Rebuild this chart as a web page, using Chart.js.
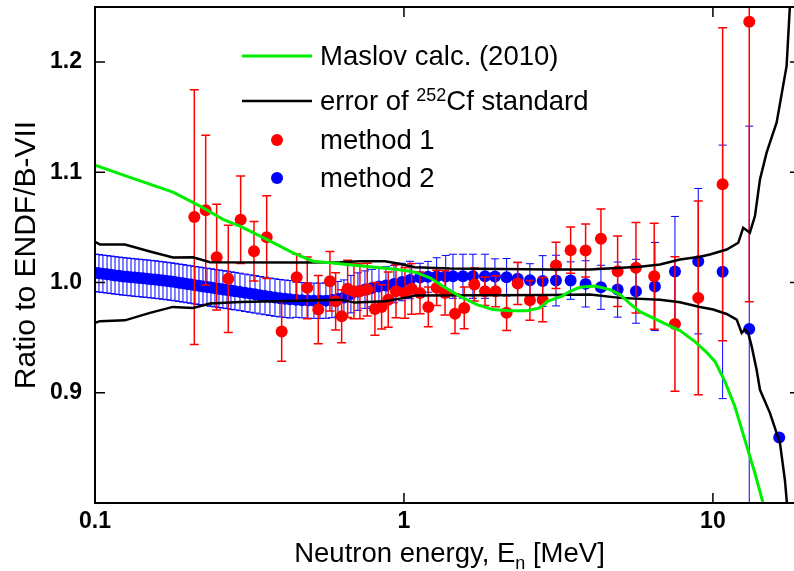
<!DOCTYPE html>
<html>
<head>
<meta charset="utf-8">
<script src="https://cdn.jsdelivr.net/npm/chart.js@4.4.1/dist/chart.umd.min.js"></script>
<style>
  html, body { margin: 0; padding: 0; background: #fff; }
  canvas { display: block; }
</style>
</head>
<body>
<canvas id="canvas" width="794" height="571"></canvas>
<script>
// neutron energy in MeV, ratio to ENDF/B-VII

var xTickValues = [0.1, 1, 10];
var xTickLabels = ['0.1', '1', '10'];
var yTickValues = [0.9, 1.0, 1.1, 1.2];
var yTickLabels = ['0.9', '1.0', '1.1', '1.2'];

var maslovEnergy = [0.1, 0.1298, 0.1788, 0.2187, 0.2595, 0.2946, 0.3595, 0.3969, 0.4373, 0.5075,
    0.5760, 0.6538, 0.8361, 0.9493, 1.046, 1.102, 1.214, 1.337, 1.518, 1.723,
    1.941, 2.203, 2.500, 2.756, 2.903, 3.127, 3.245, 3.445, 3.712, 4.151,
    4.642, 5.001, 5.388, 5.805, 6.395, 7.097, 7.821, 8.745, 9.563, 10.15,
    10.93, 11.78, 12.69, 13.68, 14.52];
var maslovRatio = [1.1066, 1.0955, 1.0821, 1.0694, 1.0573, 1.0512, 1.0391, 1.0330, 1.0270, 1.0194,
    1.0179, 1.0164, 1.0134, 1.0118, 1.0103, 1.0088, 1.0043, 0.9966, 0.9875, 0.9800,
    0.9755, 0.9745, 0.9745, 0.9770, 0.9827, 0.9861, 0.9875, 0.9921, 0.9957, 0.9968,
    0.9936, 0.9891, 0.9809, 0.9736, 0.9679, 0.9618, 0.9564, 0.9464, 0.9364, 0.9285,
    0.9103, 0.8876, 0.8573, 0.8270, 0.8003];

var cfUpperEnergy = [0.1, 0.1038, 0.125, 0.1506, 0.1788, 0.2076, 0.2356, 0.4607, 0.621, 0.7203,
    0.868, 0.9563, 1.085, 1.409, 2.969, 4.0, 5.80, 6.74, 7.821, 9.077,
    9.779, 11.08, 12.08, 12.53, 13.17, 13.68, 14.20, 14.92, 16.08, 17.32,
    17.75, 18.1];
var cfUpper = [1.0370, 1.0345, 1.0345, 1.0282, 1.0227, 1.0230, 1.0185, 1.0182, 1.0185, 1.0194,
    1.0194, 1.0173, 1.0139, 1.0127, 1.0118, 1.0118, 1.0143, 1.0164, 1.0209, 1.0234,
    1.0255, 1.0300, 1.0361, 1.0497, 1.0452, 1.0603, 1.0936, 1.1179, 1.1452, 1.1966,
    1.2509, 1.30];

var cfLowerEnergy = [0.1, 0.1038, 0.125, 0.1506, 0.1788, 0.2076, 0.2356, 0.2946, 0.4607, 0.621,
    0.694, 0.868, 1.046, 1.085, 2.969, 4.0, 5.0, 6.74, 7.821, 9.077,
    10.02, 11.08, 11.94, 12.39, 12.69, 13.01, 13.35, 13.85, 14.20, 15.29,
    16.48, 17.10, 17.36, 17.6];
var cfLower = [0.9634, 0.9650, 0.9657, 0.9725, 0.9779, 0.9770, 0.9809, 0.9823, 0.9836, 0.9845,
    0.9818, 0.9830, 0.9870, 0.9882, 0.9886, 0.9891, 0.9861, 0.9845, 0.9821, 0.9779,
    0.9755, 0.9715, 0.9664, 0.9543, 0.9573, 0.9543, 0.9421, 0.9209, 0.9027, 0.8818,
    0.8545, 0.8209, 0.8000, 0.75];

var method1Energy = [0.2096, 0.2282, 0.2476, 0.2700, 0.2961, 0.3270, 0.3595, 0.4020, 0.4495, 0.4864,
    0.5280, 0.5760, 0.6010, 0.6285, 0.6573, 0.6889, 0.7203, 0.7606, 0.8055, 0.8467,
    0.8895, 0.9422, 1.0075, 1.059, 1.127, 1.199, 1.276, 1.358, 1.463, 1.567,
    1.689, 1.829, 1.980, 2.149, 2.334, 2.557, 2.812, 3.105, 3.463, 3.872,
    4.341, 4.916, 5.635, 6.457, 7.536, 8.964, 10.75, 13.11];
var method1Ratio = [1.0594, 1.0657, 1.0230, 1.0034, 1.0570, 1.0285, 1.0412, 0.9557, 1.0048, 0.9952,
    0.9755, 1.0012, 0.9830, 0.9694, 0.9943, 0.9921, 0.9921, 0.9936, 0.9761, 0.9779,
    0.9845, 0.9921, 0.9906, 0.9943, 0.9906, 0.9779, 0.9952, 0.9906, 0.9718, 0.9770,
    0.9982, 0.9921, 0.9921, 0.9725, 0.9991, 0.9839, 0.9845, 1.0155, 1.0294, 1.0291,
    1.0397, 1.0103, 1.0134, 1.0057, 0.9623, 0.9861, 1.0891, 1.2366];
var method1Err = [0.1155, 0.068, 0.048, 0.0486, 0.0397, 0.027, 0.0375, 0.027, 0.021, 0.028,
    0.031, 0.027, 0.026, 0.024, 0.026, 0.025, 0.025, 0.024, 0.024, 0.020,
    0.025, 0.024, 0.023, 0.023, 0.019, 0.018, 0.016, 0.020, 0.018, 0.019,
    0.015, 0.013, 0.014, 0.016, 0.019, 0.018, 0.020, 0.021, 0.021, 0.024,
    0.027, 0.032, 0.041, 0.048, 0.061, 0.088, 0.142, 0.254];

var method2Energy = [0.1000, 0.1030, 0.1061, 0.1094, 0.1127, 0.1161, 0.1196, 0.1232, 0.1269, 0.1308,
    0.1347, 0.1388, 0.1430, 0.1473, 0.1518, 0.1564, 0.1611, 0.1660, 0.1710, 0.1762,
    0.1815, 0.1870, 0.1926, 0.1985, 0.2045, 0.2107, 0.2170, 0.2236, 0.2304, 0.2373,
    0.2445, 0.2519, 0.2595, 0.2674, 0.2755, 0.2838, 0.2946, 0.3058, 0.3174, 0.3295,
    0.3420, 0.3550, 0.3684, 0.3824, 0.3969, 0.4120, 0.4276, 0.4472, 0.4676, 0.4890,
    0.5113, 0.5347, 0.5591, 0.5847, 0.6114, 0.6393, 0.6735, 0.7096, 0.7478, 0.7877,
    0.8299, 0.8744, 0.9282, 0.9852, 1.046, 1.127, 1.196, 1.276, 1.365, 1.441,
    1.552, 1.672, 1.829, 1.970, 2.149, 2.334, 2.557, 2.812, 3.105, 3.463,
    3.872, 4.341, 4.916, 5.635, 6.491, 7.536, 8.964, 10.75, 13.11, 16.39];
var method2Ratio = [1.0088, 1.0084, 1.0079, 1.0075, 1.0070, 1.0065, 1.0061, 1.0056, 1.0053, 1.0049,
    1.0045, 1.0042, 1.0038, 1.0035, 1.0031, 1.0027, 1.0023, 1.0018, 1.0014, 1.0009,
    1.0004, 0.9998, 0.9993, 0.9987, 0.9982, 0.9976, 0.9971, 0.9965, 0.9960, 0.9955,
    0.9949, 0.9944, 0.9938, 0.9933, 0.9927, 0.9922, 0.9915, 0.9907, 0.9900, 0.9893,
    0.9885, 0.9878, 0.9871, 0.9864, 0.9858, 0.9853, 0.9848, 0.9844, 0.9840, 0.9837,
    0.9835, 0.9835, 0.9836, 0.9841, 0.9850, 0.9864, 0.9895, 0.9918, 0.9936, 0.9950,
    0.9964, 0.9973, 0.9986, 1.0005, 1.0023, 1.0045, 1.0052, 1.0055, 1.0056, 1.0057,
    1.0057, 1.0057, 1.0057, 1.0055, 1.0048, 1.0034, 1.0021, 1.0014, 1.0018, 1.0018,
    0.9988, 0.9957, 0.9936, 0.9921, 0.9964, 1.0100, 1.0194, 1.0097, 0.9579, 0.8594];
var method2Err = [0.017, 0.017, 0.017, 0.017, 0.017, 0.017, 0.017, 0.017, 0.017, 0.017,
    0.017, 0.017, 0.017, 0.017, 0.017, 0.017, 0.017, 0.017, 0.017, 0.017,
    0.017, 0.017, 0.017, 0.017, 0.017, 0.017, 0.017, 0.017, 0.017, 0.017,
    0.017, 0.017, 0.017, 0.017, 0.017, 0.017, 0.017, 0.017, 0.017, 0.017,
    0.017, 0.017, 0.017, 0.017, 0.017, 0.017, 0.017, 0.016, 0.016, 0.016,
    0.016, 0.016, 0.016, 0.016, 0.016, 0.016, 0.017, 0.017, 0.017, 0.017,
    0.017, 0.017, 0.017, 0.017, 0.017, 0.013, 0.014, 0.017, 0.019, 0.020,
    0.020, 0.020, 0.020, 0.016, 0.017, 0.015, 0.015, 0.023, 0.023, 0.017,
    0.021, 0.020, 0.025, 0.029, 0.040, 0.050, 0.066, 0.115, 0.184, 0];

var FONT = '"Liberation Sans", Arial, sans-serif';

function points(xs, ys) {
    return xs.map(function(e, i) {
        return { x: e, y: ys[i] };
    });
}

// vertical error bars with caps, drawn just under their own points
var errorBars = {
    id: 'errorBars',
    beforeDatasetDraw: function(chart, args) {
        var ds = chart.data.datasets[args.index];
        if (!ds.errors) return;
        var ctx = chart.ctx, a = chart.chartArea;
        var xs = chart.scales.x, ys = chart.scales.y;
        ctx.save();
        ctx.beginPath();
        ctx.rect(a.left, a.top, a.right - a.left, a.bottom - a.top);
        ctx.clip();
        ctx.strokeStyle = ds.backgroundColor;
        ctx.lineWidth = ds.errorWidth;
        ctx.beginPath();
        ds.data.forEach(function(p, i) {
            var e = ds.errors[i];
            if (!e) return;
            var px = xs.getPixelForValue(p.x);
            var top = ys.getPixelForValue(p.y + e);
            var bot = ys.getPixelForValue(p.y - e);
            ctx.moveTo(px, top); ctx.lineTo(px, bot);
            ctx.moveTo(px - ds.capHalf, top); ctx.lineTo(px + ds.capHalf, top);
            ctx.moveTo(px - ds.capHalf, bot); ctx.lineTo(px + ds.capHalf, bot);
        });
        ctx.stroke();
        ctx.restore();
    }
};

// frame with inward ticks; the right edge of the box falls on the canvas edge,
// so only its tick marks show there
var frame = {
    id: 'frame',
    afterDatasetsDraw: function(chart) {
        var ctx = chart.ctx, a = chart.chartArea;
        var xs = chart.scales.x, ys = chart.scales.y;
        ctx.save();
        ctx.strokeStyle = '#000';
        ctx.lineWidth = 2;
        ctx.beginPath();
        ctx.moveTo(a.right, a.top); ctx.lineTo(a.left, a.top);
        ctx.lineTo(a.left, a.bottom); ctx.lineTo(a.right, a.bottom);
        ctx.stroke();
        ctx.lineWidth = 1.5;
        ctx.beginPath();
        xs.ticks.forEach(function(t) {
            var exp = Math.floor(Math.log10(t.value) + 1e-9);
            var m = t.value / Math.pow(10, exp);
            if (Math.abs(m - Math.round(m)) > 1e-6) return;
            var len = Math.round(m) === 1 ? 10 : 5;
            var px = xs.getPixelForValue(t.value);
            ctx.moveTo(px, a.bottom); ctx.lineTo(px, a.bottom - len);
            ctx.moveTo(px, a.top); ctx.lineTo(px, a.top + len);
        });
        ys.ticks.forEach(function(t) {
            var k = Math.round(t.value * 100);
            var len = k % 10 === 0 ? 10 : 0;
            var py = ys.getPixelForValue(t.value);
            ctx.moveTo(a.left, py); ctx.lineTo(a.left + (len || 5), py);
            if (len) { ctx.moveTo(a.right, py); ctx.lineTo(a.right - 4, py); }
        });
        ctx.stroke();
        ctx.restore();
    }
};

// legend inside the plot and the x title with its subscript
var labels = {
    id: 'labels',
    afterDraw: function(chart) {
        var ctx = chart.ctx, a = chart.chartArea;
        var ds = chart.data.datasets;
        var rows = [56, 101, 140, 178];
        var x0 = 242, x1 = 312, xm = 277, xt = 320;
        var big = '27.5px ' + FONT, small = '18px ' + FONT;
        ctx.save();
        ctx.textBaseline = 'alphabetic';

        ctx.lineWidth = ds[0].borderWidth;
        ctx.strokeStyle = ds[0].borderColor;
        ctx.beginPath(); ctx.moveTo(x0, rows[0]); ctx.lineTo(x1, rows[0]); ctx.stroke();
        ctx.lineWidth = ds[1].borderWidth;
        ctx.strokeStyle = ds[1].borderColor;
        ctx.beginPath(); ctx.moveTo(x0, rows[1]); ctx.lineTo(x1, rows[1]); ctx.stroke();
        ctx.fillStyle = ds[3].backgroundColor;
        ctx.beginPath(); ctx.arc(xm, rows[2], ds[3].pointRadius, 0, Math.PI * 2); ctx.fill();
        ctx.fillStyle = ds[4].backgroundColor;
        ctx.beginPath(); ctx.arc(xm, rows[3], ds[4].pointRadius, 0, Math.PI * 2); ctx.fill();

        ctx.fillStyle = '#000';
        ctx.font = big;
        ctx.fillText('Maslov calc. (2010)', xt, rows[0] + 9);
        var x = xt;
        ctx.fillText('error of ', x, rows[1] + 9);
        x += ctx.measureText('error of ').width;
        ctx.font = small;
        ctx.fillText('252', x, rows[1]);
        x += ctx.measureText('252').width;
        ctx.font = big;
        ctx.fillText('Cf standard', x, rows[1] + 9);
        ctx.fillText('method 1', xt, rows[2] + 9);
        ctx.fillText('method 2', xt, rows[3] + 9);

        // x axis title
        var t1 = 'Neutron energy, E', t2 = 'n', t3 = ' [MeV]';
        ctx.font = big;
        var w1 = ctx.measureText(t1).width, w3 = ctx.measureText(t3).width;
        ctx.font = small;
        var w2 = ctx.measureText(t2).width;
        var base = 562;
        x = (a.left + a.right) / 2 + 5 - (w1 + w2 + w3) / 2;
        ctx.font = big;
        ctx.fillText(t1, x, base);
        ctx.font = small;
        ctx.fillText(t2, x + w1, base + 7);
        ctx.font = big;
        ctx.fillText(t3, x + w1 + w2, base);
        ctx.restore();
    }
};

Chart.defaults.font.family = FONT;
Chart.defaults.color = '#000';

var ctx = document.getElementById('canvas').getContext('2d');
var config = {
    type: 'scatter',
    data: {
        datasets: [{
            label: 'Maslov calc. (2010)',
            data: points(maslovEnergy, maslovRatio),
            showLine: true,
            borderColor: '#00ee00',
            borderWidth: 3,
            pointRadius: 0
        }, {
            label: 'error of 252Cf standard',
            data: points(cfUpperEnergy, cfUpper),
            showLine: true,
            borderColor: '#000000',
            borderWidth: 2.5,
            pointRadius: 0
        }, {
            label: 'error of 252Cf standard (lower)',
            data: points(cfLowerEnergy, cfLower),
            showLine: true,
            borderColor: '#000000',
            borderWidth: 2.5,
            pointRadius: 0
        }, {
            label: 'method 1',
            data: points(method1Energy, method1Ratio),
            errors: method1Err,
            errorWidth: 1.5,
            capHalf: 4.5,
            backgroundColor: '#ff0000',
            borderWidth: 0,
            pointRadius: 6
        }, {
            label: 'method 2',
            data: points(method2Energy, method2Ratio),
            errors: method2Err,
            errorWidth: 1,
            capHalf: 4,
            backgroundColor: '#0000ff',
            borderWidth: 0,
            pointRadius: 6
        }]
    },
    options: {
        responsive: false,
        animation: false,
        devicePixelRatio: 1,
        layout: { autoPadding: false, padding: { top: 7, right: 0, left: 0, bottom: 0 } },
        plugins: {
            legend: { display: false },
            tooltip: { enabled: false }
        },
        scales: {
            x: {
                type: 'logarithmic',
                min: 0.1,
                max: 18.3,
                // grid hidden; tickLength only sets the gap to the labels
                grid: { display: false, drawTicks: true, tickLength: 5 },
                border: { display: false },
                ticks: {
                    autoSkip: false,
                    maxRotation: 0,
                    padding: 0,
                    font: { size: 23, weight: 'bold' },
                    callback: function(v) {
                        var k = xTickValues.findIndex(function(t) { return Math.abs(t - v) < 1e-9; });
                        return k >= 0 ? xTickLabels[k] : null;
                    }
                },
                afterFit: function(s) {
                    s.height = 68;
                    s.paddingLeft = 0;
                    s.paddingRight = 0;
                }
            },
            y: {
                min: 0.8,
                max: 1.25,
                grid: { display: false, drawTicks: true, tickLength: 13 },
                border: { display: false },
                ticks: {
                    stepSize: 0.05,
                    padding: 0,
                    font: { size: 23, weight: 'bold' },
                    callback: function(v) {
                        var k = yTickValues.findIndex(function(t) { return Math.abs(t - v) < 1e-6; });
                        return k >= 0 ? yTickLabels[k] : null;
                    }
                },
                title: {
                    display: true,
                    text: 'Ratio to ENDF/B-VII',
                    font: { size: 30 },
                    padding: { top: 9, bottom: 0 }
                },
                afterFit: function(s) {
                    s.width = 95;
                    s.paddingTop = 0;
                    s.paddingBottom = 0;
                }
            }
        }
    },
    plugins: [errorBars, frame, labels]
};

var chart = new Chart(ctx, config);
</script>
</body>
</html>
